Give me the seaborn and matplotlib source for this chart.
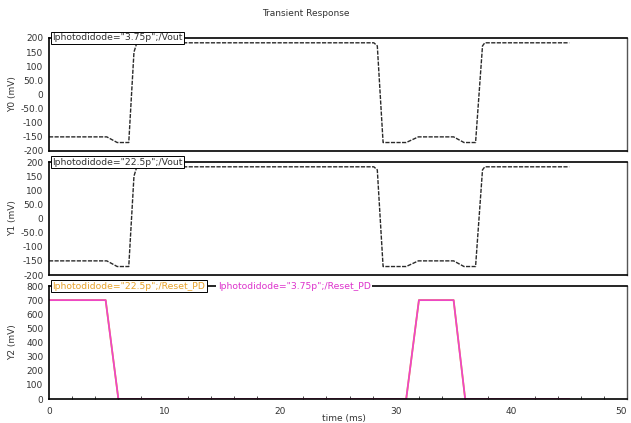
import matplotlib
matplotlib.use("Agg")
import matplotlib.pyplot as plt
import seaborn as sns
import pandas as pd
from matplotlib.ticker import MultipleLocator, FixedLocator, FixedFormatter

# ---- data ----
vout_t = [0, 5.0, 5.9, 6.9, 7.35, 7.6, 28.1, 28.4, 28.9, 30.9, 31.95, 35.0, 35.9, 36.9, 37.5, 37.7, 45]
vout_375 = [-150, -150, -170, -170, 150, 183, 183, 172, -170, -170, -150, -150, -170, -170, 172, 183, 183]
vout_225 = [-150, -150, -170, -170, 150, 183, 183, 172, -170, -170, -150, -150, -170, -170, 172, 183, 183]
reset_t = [0, 4.9, 6.0, 30.9, 32.0, 35.0, 36.0, 45]
reset_225 = [700, 700, 0, 0, 700, 700, 0, 0]
reset_375 = [700, 700, 0, 0, 700, 700, 0, 0]

vticks = [-200, -150, -100, -50, 0, 50, 100, 150, 200]
vtick_labels = ["-200", "-150", "-100", "-50.0", "0", "50.0", "100", "150", "200"]
rticks = [0, 100, 200, 300, 400, 500, 600, 700, 800]
rtick_labels = ["0", "100", "200", "300", "400", "500", "600", "700", "800"]
xticks = [0, 10, 20, 30, 40, 50]
xtick_labels = ["0", "10", "20", "30", "40", "50"]

title = "Transient Response"
ylabels = ["Y0 (mV)", "Y1 (mV)", "Y2 (mV)"]
xlabel = "time (ms)"
tab1 = 'Iphotodidode="3.75p";/Vout'
tab2 = 'Iphotodidode="22.5p";/Vout'
tab3a = 'Iphotodidode="22.5p";/Reset_PD'
tab3b = 'Iphotodidode="3.75p";/Reset_PD'

sns.set_style("white")
plt.rcParams['font.family'] = ['DejaVu Sans']

W, H = 631, 423
fig = plt.figure(figsize=(W / 100, H / 100), dpi=100)

def rect(top, bottom, left=49, right=627):
    return [left / W, 1 - bottom / H, (right - left) / W, (bottom - top) / H]

ax1 = fig.add_axes(rect(38, 151))
ax2 = fig.add_axes(rect(162, 275))
ax3 = fig.add_axes(rect(286, 399))

dark = "#2a2a2a"
mag = "#ee44cc"
orange = "#e8a22a"

df1 = pd.DataFrame({"t": vout_t, "v": vout_375})
df2 = pd.DataFrame({"t": vout_t, "v": vout_225})
df3a = pd.DataFrame({"t": reset_t, "v": reset_225})
df3b = pd.DataFrame({"t": reset_t, "v": reset_375})

sns.lineplot(data=df1, x="t", y="v", ax=ax1, color=dark, lw=1.0, linestyle=(0, (3, 1)), sort=False)
sns.lineplot(data=df2, x="t", y="v", ax=ax2, color=dark, lw=1.0, linestyle=(0, (3, 1)), sort=False)
sns.lineplot(data=df3a, x="t", y="v", ax=ax3, color=orange, lw=1.3, sort=False)
sns.lineplot(data=df3b, x="t", y="v", ax=ax3, color=mag, lw=1.2, sort=False)

for ax, yl in zip([ax1, ax2, ax3], ylabels):
    ax.set_xlim(0, 50)
    ax.set_xlabel("")
    ax.set_ylabel(yl, fontsize=6.5, labelpad=2, color="#333333")
    for s in ax.spines.values():
        s.set_color("black")
        s.set_linewidth(1.2)
    ax.spines["right"].set_color("#555555")
    ax.spines["right"].set_linewidth(1.0)
    ax.tick_params(axis="y", which="major", direction="out", length=3, width=0.8,
                   labelsize=6.5, pad=1, colors="black")
    ax.tick_params(axis="y", labelcolor="#333333")

for ax in [ax1, ax2]:
    ax.set_ylim(-200, 200)
    ax.yaxis.set_major_locator(FixedLocator(vticks))
    ax.yaxis.set_major_formatter(FixedFormatter(vtick_labels))
    ax.set_xticks([])

ax3.set_ylim(0, 800)
ax3.yaxis.set_major_locator(FixedLocator(rticks))
ax3.yaxis.set_major_formatter(FixedFormatter(rtick_labels))
ax3.xaxis.set_major_locator(FixedLocator(xticks))
ax3.xaxis.set_major_formatter(FixedFormatter(xtick_labels))
ax3.xaxis.set_minor_locator(MultipleLocator(2))
ax3.tick_params(axis="x", which="major", direction="out", length=3, width=0.8,
                labelsize=6.5, pad=3, labelcolor="#333333")
ax3.tick_params(axis="x", which="minor", direction="in", length=2.5, width=0.6, bottom=True)
ax3.set_xlabel(xlabel, fontsize=6.5, labelpad=1, color="#333333")
ax3.xaxis.set_label_coords(0.51, -0.13)
fig.canvas.draw()
last = ax3.get_xticklabels()[-1]
last.set_horizontalalignment("right")
last.set_x(last.get_position()[0])

for ax in [ax1, ax2, ax3]:
    ax.yaxis.set_label_coords(-0.055, 0.5)

def tab(ax, x, txt, color, ec="black"):
    return ax.text(x, 1.0, txt, transform=ax.transAxes, fontsize=6.7, color=color,
                   va="center", ha="left", zorder=10,
                   bbox=dict(boxstyle="square,pad=0.15", fc="white", ec=ec, lw=0.7))

tab(ax1, 0.006, tab1, "#333333")
tab(ax2, 0.006, tab2, "#333333")
tab(ax3, 0.006, tab3a, orange)
tab(ax3, 0.292, tab3b, "#dd33cc", ec="none")

fig.text(0.484, 0.967, title, ha="center", va="center", fontsize=6.5, color="#333333")

fig.savefig("out.png", dpi=100)
